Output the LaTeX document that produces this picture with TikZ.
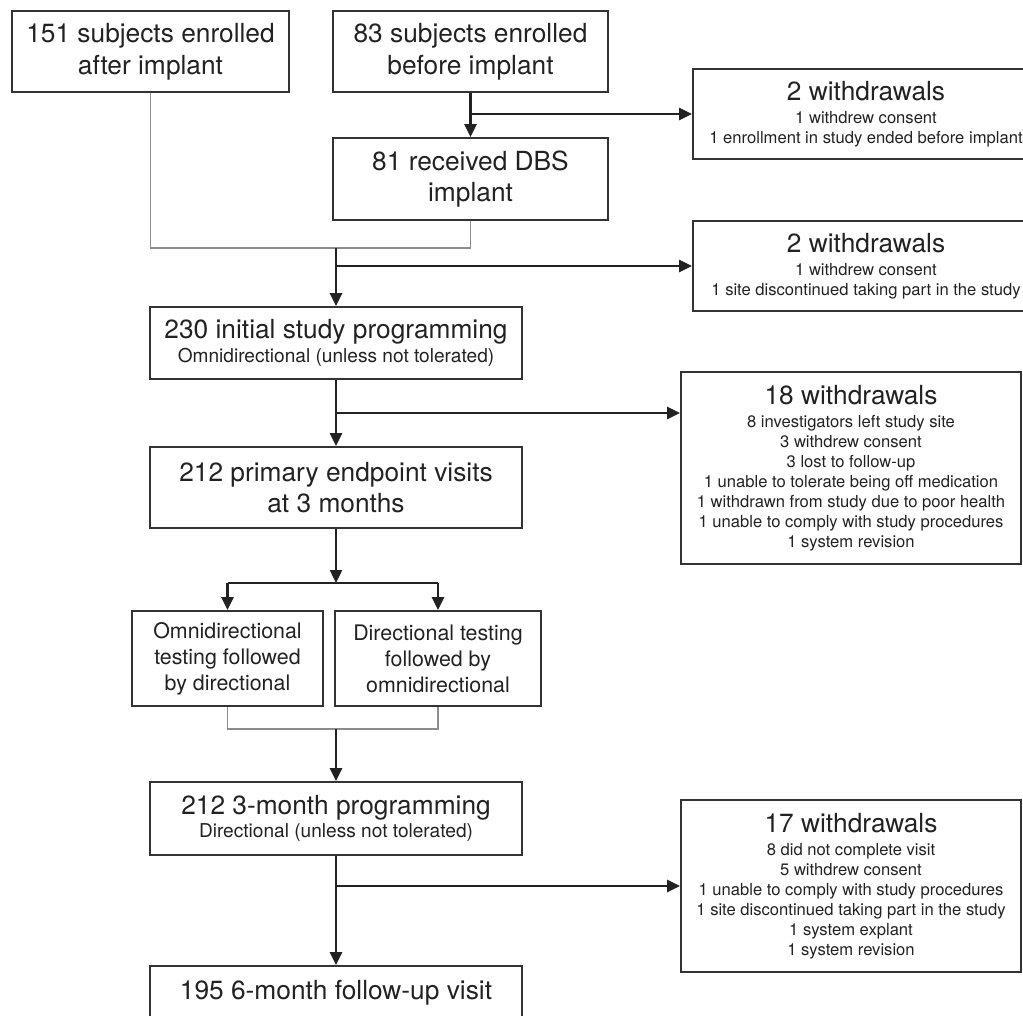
\documentclass[tikz,border=0pt]{standalone}
\usepackage{fontspec}
\setmainfont{TeX Gyre Heros}
\usepackage{tikz}
\usetikzlibrary{positioning}
\usetikzlibrary{calc}
\usetikzlibrary{arrows.meta}
\definecolor{ink}{HTML}{222222}
\definecolor{boxline}{HTML}{333333}
\definecolor{joinline}{HTML}{8C8C8C}
\newcommand{\mainsz}{\fontsize{26.3}{31.7}\selectfont}
\newcommand{\subsz}{\fontsize{19.1}{23.4}\selectfont}
\newcommand{\armsz}{\fontsize{21.4}{26}\selectfont}
\newcommand{\listsz}{\fontsize{16.6}{20}\selectfont}
\pgfdeclarelayer{nodelayer}
\pgfdeclarelayer{edgelayer}
\pgfsetlayers{edgelayer,nodelayer,main}
\tikzstyle{none}=[inner sep=0pt, minimum size=0pt]
\tikzset{box/.style={draw=boxline, line width=1.8pt, inner sep=0pt, align=center, text=ink, font=\mainsz}}
\tikzset{subbox/.style={box, font=\subsz}}
\tikzset{armbox/.style={box, font=\armsz}}
\tikzset{wbox/.style={box, font=\listsz}}
\tikzset{flow/.style={draw=ink, line width=2.4pt, -{Triangle[length=13pt,width=12pt]}}}
\tikzset{trunk/.style={draw=ink, line width=2.4pt}}
\tikzset{mergeline/.style={draw=joinline, line width=1.3pt}}
\begin{document}
\begin{tikzpicture}[x=1pt, y=-1pt]
        \useasboundingbox (0, 0) rectangle (1023, 1015);
        \begin{pgfonlayer}{nodelayer}
            \node [style=box, minimum width=277, minimum height=81] (0) at (150.5, 51.5) {151 subjects enrolled\\after implant};
            \node [style=box, minimum width=275, minimum height=81] (1) at (470.5, 51.5) {83 subjects enrolled\\before implant};
            \node [style=box, minimum width=275, minimum height=82] (2) at (470.5, 179) {81 received DBS\\implant};
            \node [style=wbox, minimum width=346, minimum height=90] (3) at (866, 114) {{\mainsz 2 withdrawals}\\[2.5pt]1 withdrew consent\\1 enrollment in study ended before implant};
            \node [style=wbox, minimum width=346, minimum height=90] (4) at (866, 266) {{\mainsz 2 withdrawals}\\[2.5pt]1 withdrew consent\\1 site discontinued taking part in the study};
            \node [style=subbox, minimum width=372, minimum height=72] (5) at (336, 343) {{\mainsz 230 initial study programming}\\Omnidirectional (unless not tolerated)};
            \node [style=wbox, minimum width=340, minimum height=192] (6) at (851, 468) {{\mainsz 18 withdrawals}\\[2.5pt]8 investigators left study site\\3 withdrew consent\\3 lost to follow-up\\1 unable to tolerate being off medication\\1 withdrawn from study due to poor health\\1 unable to comply with study procedures\\1 system revision};
            \node [style=box, minimum width=372, minimum height=81] (7) at (336, 487.5) {212 primary endpoint visits\\at 3 months};
            \node [style=armbox, minimum width=191, minimum height=95] (8) at (227.5, 658.5) {Omnidirectional\\testing followed\\by directional};
            \node [style=armbox, minimum width=206, minimum height=95] (9) at (438, 658.5) {Directional testing\\followed by\\omnidirectional};
            \node [style=subbox, minimum width=372, minimum height=73] (10) at (336, 818.5) {{\mainsz 212 3-month programming}\\Directional (unless not tolerated)};
            \node [style=wbox, minimum width=340, minimum height=172] (11) at (851, 886) {{\mainsz 17 withdrawals}\\[2.5pt]8 did not complete visit\\5 withdrew consent\\1 unable to comply with study procedures\\1 site discontinued taking part in the study\\1 system explant\\1 system revision};
            \node [style=box, minimum width=372, minimum height=54] (12) at (336, 993) {195 6-month follow-up visit};
            \node [style=none] (13) at (470.5, 114) {};
            \node [style=none] (14) at (150.5, 248) {};
            \node [style=none] (15) at (470.5, 248) {};
            \node [style=none] (16) at (336, 248) {};
            \node [style=none] (17) at (336, 266) {};
            \node [style=none] (18) at (336, 413) {};
            \node [style=none] (19) at (336, 583) {};
            \node [style=none] (20) at (227.5, 583) {};
            \node [style=none] (21) at (438, 583) {};
            \node [style=none] (22) at (227.5, 729) {};
            \node [style=none] (23) at (438, 729) {};
            \node [style=none] (24) at (336, 729) {};
            \node [style=none] (25) at (336, 886) {};
        \end{pgfonlayer}
        \begin{pgfonlayer}{edgelayer}
            \draw [style=flow] (1) to (2);
            \draw [style=flow] (13.center) to (3);
            \draw [style=mergeline] (0) to (14.center) to (15.center) to (2);
            \draw [style=flow] (16.center) to (5);
            \draw [style=flow] (17.center) to (4);
            \draw [style=flow] (5) to (7);
            \draw [style=flow] (18.center) to (18.center -| 6.west);
            \draw [style=flow] (7) to (19.center);
            \draw [style=trunk] (20.center) to (21.center);
            \draw [style=flow] (20.center) to (8);
            \draw [style=flow] (21.center) to (9);
            \draw [style=mergeline] (8) to (22.center) to (23.center) to (9);
            \draw [style=flow] (24.center) to (10);
            \draw [style=flow] (10) to (12);
            \draw [style=flow] (25.center) to (11);
        \end{pgfonlayer}
    \end{tikzpicture}
\end{document}
